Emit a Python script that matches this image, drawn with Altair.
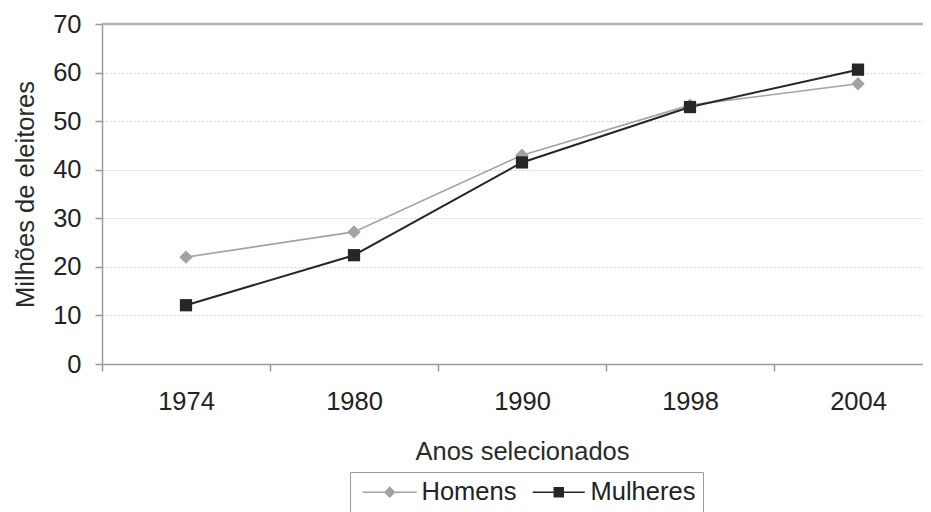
import altair as alt
import pandas as pd

years = ["1974", "1980", "1990", "1998", "2004"]
homens = [22.0, 27.2, 43.0, 53.3, 57.7]
mulheres = [12.1, 22.4, 41.5, 52.9, 60.6]
series = ["Homens", "Mulheres"]
colors = ["#a3a3a3", "#262626"]
legend_shapes = [
    "M-2.7,0L2.7,0M0,-0.48L0.48,0L0,0.48L-0.48,0Z",
    "M-2.6,0L2.6,0M-0.45,-0.45L0.45,-0.45L0.45,0.45L-0.45,0.45Z",
]
y_ticks = [0, 10, 20, 30, 40, 50, 60, 70]

rows = []
for s, vals in zip(series, [homens, mulheres]):
    for yr, v in zip(years, vals):
        rows.append({"year": yr, "value": v, "series": s})
df = pd.DataFrame(rows)

FONT = "Liberation Sans"

x_enc = alt.X(
    "year:O",
    sort=years,
    bandPosition=0.5,
    scale=alt.Scale(type="band", paddingInner=0, paddingOuter=0, range=[0, 840]),
    axis=alt.Axis(
        title="Anos selecionados",
        labelAngle=0,
        tickBand="extent",
        tickSize=7,
        tickColor="#9a9a9a",
        tickWidth=1.5,
        domainColor="#9a9a9a",
        domainWidth=1.5,
        labelFont=FONT,
        labelFontSize=25.5,
        labelColor="#222222",
        labelPadding=18,
        titleFont=FONT,
        titleFontSize=25.5,
        titleFontWeight="normal",
        titleColor="#2a2a2a",
        titlePadding=25,
        grid=False,
    ),
)
y_enc = alt.Y(
    "value:Q",
    scale=alt.Scale(domain=[0, 70], nice=False),
    axis=alt.Axis(
        title="Milhões de eleitores",
        values=y_ticks,
        tickSize=7,
        tickColor="#9a9a9a",
        tickWidth=1.5,
        domainColor="#9a9a9a",
        domainWidth=1.5,
        labelFont=FONT,
        labelFontSize=25.5,
        labelColor="#222222",
        labelPadding=14,
        titleFont=FONT,
        titleFontSize=25.5,
        titleFontWeight="normal",
        titleColor="#2a2a2a",
        titlePadding=14,
        grid=True,
        gridColor="#d0d0d0",
        gridDash=[2, 2],
        gridWidth=1,
    ),
)

base = alt.Chart(df)

top_rule = alt.Chart(pd.DataFrame({"v": [70]})).mark_rule(
    color="#b0b0b0", strokeWidth=2.5
).encode(y=alt.Y("v:Q"))

line_h = base.transform_filter(alt.datum.series == "Homens").mark_line(
    color=colors[0], strokeWidth=1.6
).encode(x=x_enc, y=y_enc)

line_m = base.transform_filter(alt.datum.series == "Mulheres").mark_line(
    color=colors[1], strokeWidth=2.0
).encode(x=x_enc, y=y_enc)

pts_h = base.transform_filter(alt.datum.series == "Homens").mark_point(
    filled=True, opacity=1, shape="diamond", size=180, color=colors[0]
).encode(x=x_enc, y=y_enc)

pts_m = base.transform_filter(alt.datum.series == "Mulheres").mark_point(
    filled=True, opacity=1, shape="square", size=150, color=colors[1]
).encode(x=x_enc, y=y_enc)

# legend only: no rows survive the filter; entries come from the explicit scale domain
legend_layer = base.transform_filter("datum.value < 0").mark_point(
    strokeWidth=1.5, opacity=1, fillOpacity=1, strokeOpacity=1
).encode(
    x=x_enc,
    y=y_enc,
    fill=alt.Fill("series:N", scale=alt.Scale(domain=series, range=colors), title=None),
    stroke=alt.Stroke("series:N", scale=alt.Scale(domain=series, range=colors), title=None),
    shape=alt.Shape("series:N", scale=alt.Scale(domain=series, range=legend_shapes), title=None),
)

chart = (
    alt.layer(top_rule, line_h, line_m, pts_h, pts_m, legend_layer)
    .properties(
        width=821,
        height=340,
        autosize=alt.AutoSizeParams(type="none"),
        padding={"left": 94, "top": 16, "right": 0, "bottom": 148},
    )
    .configure_view(stroke=None)
    .configure_legend(
        orient="none",
        legendX=248,
        legendY=448,
        direction="horizontal",
        strokeColor="#9a9a9a",
        padding=7,
        labelFont=FONT,
        labelFontSize=25.5,
        labelColor="#222222",
        symbolSize=400,
        symbolStrokeWidth=1.5,
        symbolOpacity=1,
        symbolFillColor="#262626",
        symbolOffset=20,
        labelOffset=19,
        columnPadding=9,
    )
)

chart.save("out.html", embed_options={"renderer": "svg", "actions": False})
